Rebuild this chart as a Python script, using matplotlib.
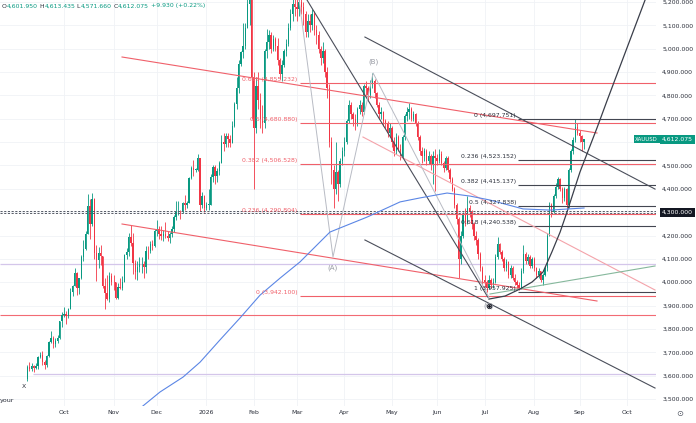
import numpy as np
import pandas as pd
import matplotlib
matplotlib.use("Agg")
from matplotlib import pyplot as plt
from matplotlib import transforms

# XAUUSD daily bars, Sep 8 2025 .. Sep 3 2026
# closes / highs / lows per month, opens = previous close
sep25_c = [3636, 3627, 3640, 3634, 3643, 3679, 3690, 3659, 3644, 3685, 3746, 3763, 3736, 3749, 3760, 3833, 3858]
sep25_h = [3646, 3659, 3655, 3645, 3655, 3685, 3703, 3705, 3665, 3690, 3750, 3791, 3770, 3760, 3775, 3835, 3872]
sep25_l = [3578, 3620, 3620, 3615, 3630, 3630, 3675, 3646, 3628, 3638, 3680, 3738, 3718, 3722, 3738, 3758, 3810]

oct25_c = [3866, 3856, 3886, 3960, 3985, 4040, 3976, 4017, 4110, 4142, 4208, 4326, 4250, 4356, 4125, 4094, 4126, 4111, 3982, 3952, 3930, 4025, 4002]
oct25_h = [3895, 3876, 3890, 3975, 3990, 4059, 4045, 4020, 4116, 4179, 4218, 4380, 4358, 4381, 4360, 4160, 4150, 4160, 4110, 4020, 4030, 4045, 4040]
oct25_l = [3850, 3820, 3845, 3885, 3940, 3985, 3945, 3948, 4015, 4090, 4138, 4205, 4185, 4240, 4100, 4005, 4060, 4075, 3975, 3887, 3925, 3915, 3990]

nov25_c = [4000, 3932, 3980, 3977, 4000, 4115, 4128, 4195, 4170, 4084, 4045, 4067, 4077, 4078, 4065, 4135, 4132, 4163, 4155, 4218]
nov25_h = [4030, 4000, 3995, 4020, 4025, 4120, 4148, 4210, 4245, 4212, 4095, 4090, 4110, 4110, 4090, 4155, 4156, 4175, 4180, 4230]
nov25_l = [3965, 3930, 3930, 3970, 3965, 4000, 4100, 4113, 4155, 4035, 4015, 4010, 4045, 4040, 4020, 4040, 4100, 4125, 4140, 4150]

dec25_c = [4230, 4205, 4200, 4208, 4198, 4188, 4208, 4229, 4280, 4300, 4305, 4303, 4340, 4330, 4340, 4445, 4490, 4480, 4480, 4530, 4330, 4370, 4320]
dec25_h = [4265, 4240, 4240, 4225, 4260, 4220, 4215, 4240, 4290, 4350, 4350, 4310, 4345, 4375, 4350, 4450, 4498, 4525, 4490, 4550, 4530, 4385, 4375]
dec25_l = [4200, 4185, 4180, 4175, 4190, 4175, 4170, 4195, 4215, 4265, 4290, 4270, 4298, 4310, 4320, 4345, 4440, 4455, 4470, 4475, 4305, 4320, 4300]

jan26_c = [4330, 4330, 4450, 4495, 4455, 4478, 4510, 4600, 4590, 4625, 4615, 4595, 4670, 4765, 4830, 4935, 4985, 5010, 5090, 5190, 5390, 4880]
jan26_h = [4345, 4400, 4465, 4500, 4500, 4490, 4520, 4630, 4640, 4640, 4640, 4630, 4690, 4770, 4880, 4950, 4990, 5110, 5110, 5310, 5595, 5450]
jan26_l = [4310, 4310, 4330, 4430, 4420, 4430, 4460, 4510, 4560, 4580, 4580, 4580, 4600, 4665, 4740, 4810, 4925, 4960, 5000, 5090, 5100, 4700]

feb26_c = [4660, 4840, 4780, 4700, 4680, 4990, 5030, 5060, 5000, 5040, 5010, 4950, 4890, 4930, 4990, 5020, 5090, 5150, 5190, 5180]
feb26_h = [4900, 4880, 4900, 4810, 4760, 5000, 5085, 5080, 5070, 5060, 5050, 5045, 4960, 4950, 5000, 5040, 5110, 5170, 5215, 5230]
feb26_l = [4400, 4640, 4740, 4660, 4640, 4660, 4960, 5000, 4980, 4990, 4990, 4930, 4870, 4860, 4920, 4970, 5010, 5080, 5120, 5140]

mar26_c = [5170, 5200, 5180, 5150, 5070, 5120, 5100, 5150, 5080, 5060, 5000, 4960, 4990, 4900, 4830, 4600, 4480, 4400, 4470, 4420, 4520, 4560]
mar26_h = [5220, 5240, 5235, 5200, 5160, 5150, 5150, 5170, 5160, 5100, 5075, 5010, 5030, 5000, 4920, 4850, 4620, 4500, 4600, 4480, 4530, 4580]
mar26_l = [5120, 5140, 5150, 5100, 5050, 5050, 5070, 5080, 5060, 5020, 4980, 4930, 4940, 4880, 4790, 4580, 4420, 4318, 4380, 4350, 4410, 4500]

apr26_c = [4600, 4690, 4760, 4720, 4700, 4680, 4740, 4760, 4730, 4840, 4830, 4800, 4850, 4860, 4810, 4760, 4720, 4730, 4690, 4680, 4640, 4660]
apr26_h = [4620, 4700, 4780, 4770, 4730, 4720, 4750, 4780, 4770, 4850, 4860, 4840, 4865, 4895, 4870, 4815, 4770, 4750, 4735, 4700, 4690, 4680]
apr26_l = [4540, 4590, 4680, 4700, 4670, 4650, 4670, 4720, 4710, 4720, 4800, 4780, 4790, 4830, 4790, 4750, 4700, 4700, 4670, 4660, 4620, 4620]

may26_c = [4600, 4560, 4620, 4570, 4540, 4620, 4710, 4730, 4740, 4700, 4720, 4680, 4620, 4560, 4540, 4560, 4520, 4540, 4500, 4540, 4530]
may26_h = [4670, 4620, 4640, 4630, 4590, 4630, 4720, 4750, 4768, 4750, 4735, 4725, 4690, 4630, 4580, 4575, 4570, 4560, 4550, 4560, 4570]
may26_l = [4580, 4540, 4550, 4560, 4525, 4530, 4610, 4690, 4700, 4690, 4690, 4670, 4610, 4545, 4510, 4520, 4500, 4505, 4480, 4420, 4390]

jun26_c = [4520, 4550, 4510, 4490, 4530, 4480, 4440, 4400, 4330, 4270, 4100, 4200, 4290, 4260, 4320, 4300, 4250, 4200, 4180, 4120, 4060, 4010]
jun26_h = [4550, 4570, 4560, 4520, 4540, 4540, 4490, 4450, 4410, 4340, 4280, 4220, 4300, 4320, 4368, 4330, 4310, 4260, 4220, 4190, 4130, 4070]
jun26_l = [4500, 4510, 4500, 4470, 4480, 4470, 4430, 4390, 4320, 4250, 4020, 4080, 4190, 4240, 4250, 4280, 4230, 4180, 4160, 4100, 4050, 3990]

jul26_c = [4000, 3975, 4010, 3990, 4000, 4110, 4165, 4130, 4100, 4060, 4085, 4030, 4060, 4020, 4000, 3990, 3975, 4050, 4120, 4090, 4110, 4070, 4100]
jul26_h = [4030, 4010, 4030, 4020, 4020, 4120, 4195, 4170, 4140, 4110, 4100, 4090, 4075, 4070, 4035, 4010, 4000, 4060, 4160, 4130, 4120, 4115, 4110]
jul26_l = [3980, 3957.925, 3970, 3975, 3975, 3995, 4100, 4120, 4090, 4050, 4050, 4020, 4020, 4010, 3990, 3975, 3965, 3970, 4040, 4080, 4080, 4060, 4060]

aug26_c = [4060, 4030, 4050, 4010, 4030, 4060, 4200, 4330, 4300, 4370, 4410, 4440, 4400, 4360, 4400, 4330, 4480, 4560, 4610, 4665, 4640]
aug26_h = [4110, 4065, 4060, 4050, 4040, 4070, 4210, 4345, 4340, 4380, 4425, 4450, 4445, 4410, 4410, 4405, 4490, 4570, 4620, 4697.751, 4680]
aug26_l = [4050, 4020, 4020, 4000, 3990, 4025, 4050, 4200, 4280, 4295, 4360, 4400, 4390, 4340, 4350, 4320, 4320, 4470, 4550, 4600, 4630]

sep26_c = [4625, 4602.145, 4612.075]
sep26_h = [4650, 4630, 4613.435]
sep26_l = [4600, 4560, 4571.66]

first_open = 3587

# 200-day moving average, read at a few points (bar index, price)
ma_x = [51.3, 61.5, 72.2, 80.1, 89.3, 98.6, 107.9, 117.2, 126.4, 140.3, 157.5, 172.8, 182.0, 194.6, 205.2, 214.5, 229.8, 242.3, 258.1]
ma_p = [3453, 3530, 3594, 3658, 3753, 3847, 3945, 4018, 4087, 4215, 4279, 4344, 4361, 4382, 4369, 4352, 4314, 4309, 4318]

# fibonacci retracements
fib_left_lv = [0.618, 0.5, 0.382, 0.236, 0]
fib_left_px = [4855.232, 4680.880, 4506.528, 4290.804, 3942.100]
fib_right_lv = [0, 0.236, 0.382, 0.5, 0.618, 1]
fib_right_px = [4697.751, 4523.152, 4415.137, 4327.838, 4240.538, 3957.925]

# trend lines: (x0, p0, x1, p1)
red_lines = [(43.9, 4964.5, 264.1, 4639.1), (43.9, 4249.4, 264.1, 3919.7)]
pink_line = (155.6, 4621.9, 291.0, 3966.8)
green_line = (214.5, 3949.7, 291.0, 4069.6)
dark_lines = [(156.5, 5050.0, 291.0, 4399.0), (156.5, 4181.0, 291.0, 3547.0),
              (129.7, 5208.0, 213.6, 3935.0)]
# ABC zigzag: start, A, B, C
zz_x = [126.0, 141.7, 160.3, 214.0]
zz_p = [5208.0, 4108.0, 4896.0, 3935.0]
# curved drawing from the July low
curve_x = [214.0, 221.5, 228.4, 234.0, 239.1, 243.2, 247.0, 250.2, 256.2, 264.1, 268.7, 286.4, 288.7]
curve_p = [3928, 3941, 3971, 4001, 4044, 4130, 4215, 4301, 4472, 4661, 4776, 5209, 5269]

closes = np.array(sep25_c + oct25_c + nov25_c + dec25_c + jan26_c + feb26_c + mar26_c
                  + apr26_c + may26_c + jun26_c + jul26_c + aug26_c + sep26_c, dtype=float)
highs = np.array(sep25_h + oct25_h + nov25_h + dec25_h + jan26_h + feb26_h + mar26_h
                 + apr26_h + may26_h + jun26_h + jul26_h + aug26_h + sep26_h, dtype=float)
lows = np.array(sep25_l + oct25_l + nov25_l + dec25_l + jan26_l + feb26_l + mar26_l
                + apr26_l + may26_l + jun26_l + jul26_l + aug26_l + sep26_l, dtype=float)
opens = np.concatenate([[first_open], closes[:-1]])
highs = np.maximum(highs, np.maximum(opens, closes))
lows = np.minimum(lows, np.minimum(opens, closes))
n = len(closes)
x = np.arange(n)

GREEN = "#089981"
RED = "#f23645"
TXT = "#2a2e39"

fig = plt.figure(figsize=(6.96, 4.23), dpi=100)
ax = fig.add_axes([0, 17 / 423, 656 / 696, 406 / 423])
XMIN, XMAX = -12.67, 291.45
ax.set_xlim(XMIN, XMAX)
ax.set_ylim(3470.1, 5208.6)
for s in ax.spines.values():
    s.set_visible(False)

# month ticks from a business-day calendar
cal = pd.bdate_range("2025-09-08", "2026-10-30")
month_idx = [i for i in range(1, len(cal)) if cal[i].month != cal[i - 1].month]
month_lab = ["2026" if cal[i].month == 1 else cal[i].strftime("%b") for i in month_idx]
ax.set_xticks(month_idx)
ax.set_xticklabels(month_lab)
ax.yaxis.tick_right()
yt = np.arange(3500, 5201, 100)
ax.set_yticks(yt)
# 4,300 and 4,600 are covered by the price-scale boxes
ax.set_yticklabels(["" if v in (4300, 4600) else f"{v:,.3f}" for v in yt])
ax.tick_params(axis="both", length=0, labelsize=4.4, labelcolor=TXT)
ax.tick_params(axis="y", pad=4.5)
ax.tick_params(axis="x", pad=3)
ax.grid(True, color="#f0f2f6", lw=0.6, zorder=0)

# candles
cols = np.where(closes >= opens, GREEN, RED)
ax.vlines(x, lows, highs, colors=cols, lw=0.6, zorder=3)
ax.bar(x, np.maximum(np.abs(closes - opens), 3), bottom=np.minimum(opens, closes),
       width=0.62, color=cols, lw=0, zorder=3)

# horizontal levels
ax.hlines(4077, XMIN, XMAX, color="#d4c6ea", lw=0.9, zorder=2)
ax.hlines(3860, XMIN, XMAX, color="#f26b74", lw=0.8, zorder=2)
ax.hlines(3605, 2.6, XMAX, color="#d4c6ea", lw=0.9, zorder=2)
for lv in (4306, 4295):
    ax.hlines(lv, XMIN, XMAX, color="#555a66", lw=0.7, linestyles=(0, (2.2, 1.6)), zorder=4)

# left fib (red)
for lv, px in zip(fib_left_lv, fib_left_px):
    ax.hlines(px, 126.4, XMAX, color="#f0606a", lw=0.8, zorder=4)
    ax.text(125.2, px + 4, f"{lv:g} ({px:,.3f})", ha="right", va="bottom",
            fontsize=4.4, color="#f0606a", zorder=5)

# right fib (dark)
for lv, px in zip(fib_right_lv, fib_right_px):
    ax.hlines(px, 227.5, XMAX, color="#434651", lw=0.8, zorder=4)
    ax.text(226.6, px + 4, f"{lv:g} ({px:,.3f})", ha="right", va="bottom",
            fontsize=4.4, color="#2a2e39", zorder=5)

# trend lines
for x0, p0, x1, p1 in red_lines:
    ax.plot([x0, x1], [p0, p1], color="#f0606a", lw=0.8, zorder=4)
ax.plot(pink_line[::2], pink_line[1::2], color="#f4a3aa", lw=0.8, zorder=4)
ax.plot(green_line[::2], green_line[1::2], color="#86b89c", lw=0.8, zorder=4)
for x0, p0, x1, p1 in dark_lines:
    ax.plot([x0, x1], [p0, p1], color="#4a4e5a", lw=0.8, zorder=4)
ax.plot(zz_x, zz_p, color="#b8bbc4", lw=0.7, zorder=4)
ax.plot(curve_x, curve_p, color="#3a3e4a", lw=0.9, zorder=4, solid_joinstyle="round")

# moving average
ax.plot(ma_x, ma_p, color="#5b86e5", lw=0.8, zorder=4)

# wave labels
ax.text(141.7, 4061, "(A)", ha="center", va="center", fontsize=5, color="#9598a1", zorder=5)
ax.text(160.3, 4943, "(B)", ha="center", va="center", fontsize=5, color="#9598a1", zorder=5)
ax.text(214.0, 3898, "(C)", ha="center", va="center", fontsize=5, color="#9598a1", zorder=5)
ax.plot(214.0, 3898, "o", ms=3.2, mfc="white", mec="#131722", mew=0.6, zorder=6)
ax.plot(214.0, 3898, "o", ms=1.1, color="#131722", zorder=7)

# price-scale labels
tr = transforms.blended_transform_factory(fig.transFigure, ax.transData)
ax.text(662 / 696, 4300, "4,300.000", transform=tr, ha="left", va="center", fontsize=4.4,
        color="white", clip_on=False, zorder=10,
        bbox=dict(boxstyle="square,pad=0.3", fc="#131722", ec="none"))
ax.text(658 / 696, 4612.075, "XAUUSD", transform=tr, ha="right", va="center", fontsize=3.9,
        color="white", clip_on=False, zorder=10,
        bbox=dict(boxstyle="square,pad=0.3", fc=GREEN, ec="none"))
ax.text(662 / 696, 4612.075, "4,612.075", transform=tr, ha="left", va="center", fontsize=4.4,
        color="white", clip_on=False, zorder=10,
        bbox=dict(boxstyle="square,pad=0.3", fc=GREEN, ec="none"))

# OHLC header
pieces = [("O", TXT), ("4,601.950", GREEN), (" H", TXT), ("4,613.435", GREEN),
          (" L", TXT), ("4,571.660", GREEN), (" C", TXT), ("4,612.075", GREEN),
          (" +9.930 (+0.22%)", GREEN)]
r = fig.canvas.get_renderer()
xp = 2
for s, c in pieces:
    t = fig.text(xp / 696, 1 - 6 / 423, s, fontsize=4.4, color=c, va="center", ha="left")
    xp = t.get_window_extent(renderer=r).x1

fig.text(22 / 696, 1 - 386 / 423, "X", fontsize=4.4, color=TXT, va="center")
fig.text(0, 1 - 400 / 423, "your", fontsize=4.6, color=TXT, va="center")
fig.text(680 / 696, 1 - 413 / 423, "\u2299", fontsize=6, color="#555a66", ha="center", va="center")

fig.savefig("out.png", dpi=100)
